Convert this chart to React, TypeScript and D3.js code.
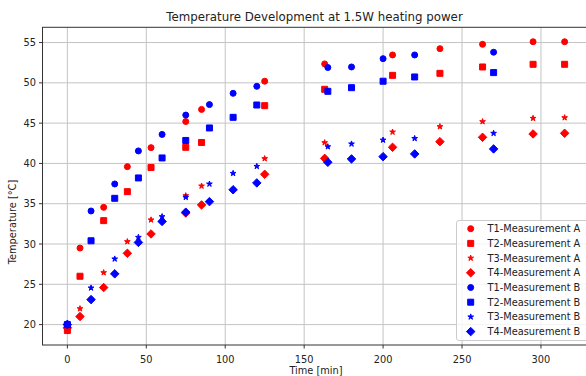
import React from "react";
import * as d3 from "d3";

const timeA = [0, 8, 23, 38, 53, 75, 85, 125, 163, 206, 236, 263, 295, 315];
const timeB = [0, 15, 30, 45, 60, 75, 90, 105, 120, 165, 180, 200, 220, 270];

const t1A = [19.5, 29.5, 34.55, 39.6, 41.96, 45.2, 46.7, 50.2, 52.35, 53.46, 54.24, 54.78, 55.1, 55.1];
const t2A = [19.26, 26.0, 32.9, 36.5, 39.5, 42.0, 42.6, 47.17, 49.2, 50.93, 51.18, 51.97, 52.3, 52.3];
const t3A = [19.5, 21.98, 26.45, 30.3, 33.0, 36.0, 37.2, 40.6, 42.58, 43.9, 44.57, 45.19, 45.6, 45.68];
const t4A = [19.6, 21.0, 24.6, 28.85, 31.25, 33.85, 34.85, 38.65, 40.63, 42.0, 42.7, 43.24, 43.66, 43.74];

const t1B = [20.1, 34.1, 37.45, 41.55, 43.6, 46.0, 47.3, 48.7, 49.57, 51.9, 51.97, 53.0, 53.46, 53.8];
const t2B = [20.0, 30.4, 35.67, 38.2, 40.68, 42.85, 44.4, 45.72, 47.25, 48.95, 49.4, 50.2, 50.73, 51.27];
const t3B = [20.0, 24.55, 28.15, 30.83, 33.4, 35.8, 37.45, 38.77, 39.64, 42.08, 42.42, 42.9, 43.1, 43.74];
const t4B = [20.0, 23.1, 26.3, 30.2, 32.8, 33.95, 35.26, 36.73, 37.58, 40.14, 40.56, 40.84, 41.18, 41.8];

const seriesNames = [
  "T1-Measurement A", "T2-Measurement A", "T3-Measurement A", "T4-Measurement A",
  "T1-Measurement B", "T2-Measurement B", "T3-Measurement B", "T4-Measurement B",
];
const xTicks = [0, 50, 100, 150, 200, 250, 300];
const yTicks = [20, 25, 30, 35, 40, 45, 50, 55];

const title = "Temperature Development at 1.5W heating power";
const xLabel = "Time [min]";
const yLabel = "Temperature [°C]";

type Shape = "circle" | "square" | "star" | "diamond";
const series = [
  { name: seriesNames[0], x: timeA, y: t1A, color: "#ff0000", shape: "circle" as Shape },
  { name: seriesNames[1], x: timeA, y: t2A, color: "#ff0000", shape: "square" as Shape },
  { name: seriesNames[2], x: timeA, y: t3A, color: "#ff0000", shape: "star" as Shape },
  { name: seriesNames[3], x: timeA, y: t4A, color: "#ff0000", shape: "diamond" as Shape },
  { name: seriesNames[4], x: timeB, y: t1B, color: "#0000ff", shape: "circle" as Shape },
  { name: seriesNames[5], x: timeB, y: t2B, color: "#0000ff", shape: "square" as Shape },
  { name: seriesNames[6], x: timeB, y: t3B, color: "#0000ff", shape: "star" as Shape },
  { name: seriesNames[7], x: timeB, y: t4B, color: "#0000ff", shape: "diamond" as Shape },
];

const W = 586;
const H = 376;
const L = 42.5, R = 589.5, T = 27.3, B = 345;
const FONT = "DejaVu Sans, sans-serif";
const MS = 6;

function markerPath(shape: Shape): string {
  const h = MS / 2;
  if (shape === "square") return `M${-h},${-h}H${h}V${h}H${-h}Z`;
  if (shape === "diamond") {
    const d = h * Math.SQRT2;
    return `M0,${-d}L${d},0L0,${d}L${-d},0Z`;
  }
  if (shape === "star") {
    const pts: string[] = [];
    const ro = h, ri = h * 0.381966;
    for (let i = 0; i < 10; i++) {
      const r = i % 2 === 0 ? ro : ri;
      const a = (Math.PI / 5) * i - Math.PI / 2;
      pts.push(`${(r * Math.cos(a)).toFixed(3)},${(r * Math.sin(a)).toFixed(3)}`);
    }
    return "M" + pts.join("L") + "Z";
  }
  return d3.symbol(d3.symbolCircle, Math.PI * h * h)() as string;
}

export default function App() {
  const allX = [...timeA, ...timeB];
  const allY = [...t1A, ...t2A, ...t3A, ...t4A, ...t1B, ...t2B, ...t3B, ...t4B];
  const [x0, x1] = d3.extent(allX) as [number, number];
  const [y0, y1] = d3.extent(allY) as [number, number];
  const px = (x1 - x0) * 0.05;
  const py = (y1 - y0) * 0.05;
  const x = d3.scaleLinear().domain([x0 - px, x1 + px]).range([L, R]);
  const y = d3.scaleLinear().domain([y0 - py, y1 + py]).range([B, T]);

  const gridColor = "#c4c4c4";
  const textColor = "#222";

  const legX = 456.5, legY = 220.5, legW = 136, legH = 120;
  const rowH = 14.7;
  const fs = 9.8;

  return (
    <div style={{ position: "fixed", left: 0, top: 0 }}>
      <svg width={W} height={H} viewBox={`0 0 ${W} ${H}`} style={{ display: "block", background: "#fff" }}>
        <defs>
          <clipPath id="plotclip">
            <rect x={L} y={T} width={R - L} height={B - T} />
          </clipPath>
        </defs>
        <rect x={0} y={0} width={W} height={H} fill="#fff" />
        <g stroke={gridColor} strokeWidth={1}>
          {xTicks.map((t) => (
            <line key={"gx" + t} x1={x(t)} x2={x(t)} y1={T} y2={B} />
          ))}
          {yTicks.map((t) => (
            <line key={"gy" + t} x1={L} x2={R} y1={y(t)} y2={y(t)} />
          ))}
        </g>
        <g clipPath="url(#plotclip)">
          {series.map((s) => {
            const p = markerPath(s.shape);
            return (
              <g key={s.name} fill={s.color} stroke={s.color} strokeWidth={1}>
                {s.x.map((xv, i) => (
                  <path key={i} d={p} transform={`translate(${x(xv)},${y(s.y[i])})`} />
                ))}
              </g>
            );
          })}
        </g>
        <rect x={L} y={T} width={R - L} height={B - T} fill="none" stroke="#333" strokeWidth={1} />
        <g stroke="#333" strokeWidth={1}>
          {xTicks.map((t) => (
            <line key={"tx" + t} x1={x(t)} x2={x(t)} y1={B} y2={B + 3.5} />
          ))}
          {yTicks.map((t) => (
            <line key={"ty" + t} x1={L - 3.5} x2={L} y1={y(t)} y2={y(t)} />
          ))}
        </g>
        <g fontFamily={FONT} fontSize={fs} fill={textColor}>
          {xTicks.map((t) => (
            <text key={"lx" + t} x={x(t)} y={362.5} textAnchor="middle">{t}</text>
          ))}
          {yTicks.map((t) => (
            <text key={"ly" + t} x={36} y={y(t) + 3.5} textAnchor="end">{t}</text>
          ))}
        </g>
        <text x={314.5} y={20.5} textAnchor="middle" fontFamily={FONT} fontSize={11.8} fill={textColor}>{title}</text>
        <text x={316} y={373.5} textAnchor="middle" fontFamily={FONT} fontSize={fs} fill={textColor}>{xLabel}</text>
        <text transform={`translate(16,222) rotate(-90)`} textAnchor="middle" fontFamily={FONT} fontSize={fs} fill={textColor}>{yLabel}</text>
        <rect x={legX} y={legY} width={legW} height={legH} rx={2.5} fill="#fff" fillOpacity={0.8} stroke="#cccccc" strokeWidth={1} />
        {series.map((s, i) => {
          const cy = 228.7 + i * rowH;
          return (
            <g key={"leg" + s.name}>
              <path d={markerPath(s.shape)} transform={`translate(470.7,${cy})`} fill={s.color} stroke={s.color} strokeWidth={1} />
              <text x={487.5} y={cy + 3.5} fontFamily={FONT} fontSize={fs} fill={textColor}>{s.name}</text>
            </g>
          );
        })}
      </svg>
    </div>
  );
}
